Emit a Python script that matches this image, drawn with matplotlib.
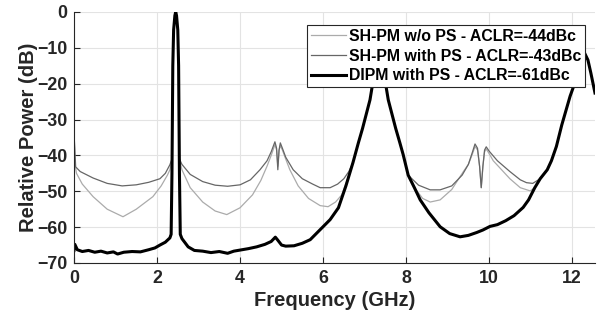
import matplotlib
matplotlib.use("Agg")
import matplotlib.pyplot as plt

plt.rcParams['font.family'] = ['Liberation Sans', 'DejaVu Sans']
plt.rcParams['font.weight'] = 'bold'

# shared flank of the 3rd and 5th harmonics (all three traces sit under the black one there)
f_h3 = [6.72, 6.85, 6.95, 7.04, 7.13, 7.18, 7.24, 7.3, 7.35, 7.4, 7.46, 7.52, 7.57, 7.66,
        7.75, 7.85, 7.93, 8.05]
p_h3 = [-42, -36.5, -32.5, -28.5, -24.5, -21, -16, -11, -8, -11, -16, -21, -24.5, -28.5,
        -32.5, -36.5, -39.8, -45.5]
f_h5 = [11.23, 11.4, 11.5, 11.62, 11.75, 11.85, 11.95, 12.03, 12.12, 12.2, 12.28, 12.38,
        12.45, 12.55]
p_h5 = [-46.5, -44, -41.5, -37.5, -31.5, -27.5, -23.5, -20.9, -17, -13.5, -11, -13.4,
        -17, -22.6]

# SH-PM w/o PS (light grey)
f_nops = [0.0, 0.03, 0.06, 0.2, 0.46, 0.8, 1.18, 1.5, 1.9, 2.1, 2.25, 2.31, 2.36,
          2.37, 2.38, 2.40, 2.43, 2.45, 2.47, 2.50, 2.52, 2.53, 2.54,
          2.6, 2.8, 3.1, 3.4, 3.68, 4.0, 4.3, 4.5, 4.65, 4.75, 4.84, 4.88, 4.91, 4.94, 4.97,
          5.02, 5.1, 5.2, 5.4, 5.65, 5.93, 6.12, 6.3, 6.45, 6.53, 6.62] + f_h3 + \
         [8.2, 8.4, 8.58, 8.82, 9.1, 9.38, 9.5, 9.6, 9.66, 9.72, 9.77, 9.81, 9.85, 9.89, 9.93,
          10.0, 10.1, 10.3, 10.5, 10.75, 10.99, 11.1] + f_h5
p_nops = [-41, -43, -45, -48, -51.5, -55, -57.1, -55, -51.5, -48.5, -45.5, -44, -41,
          -30, -15, -5, -1, 0, -1, -5, -15, -30, -41,
          -44, -49, -53, -55.5, -56.5, -54.6, -51, -47, -43, -40, -37, -38.5, -43, -38.5, -37.3,
          -38.5, -41, -44, -48.5, -52, -54, -54.3, -53, -51, -48.5, -45.5] + p_h3 + \
         [-49, -52, -53, -52.4, -49.5, -44.5, -42.5, -39.5, -37.5, -38.5, -43, -49, -43, -39,
          -38.2, -39.5, -41.5, -44, -46.5, -49, -49.9, -49] + p_h5

# SH-PM with PS (dark grey)
f_ps = [0.0, 0.02, 0.04, 0.15, 0.46, 0.8, 1.16, 1.5, 1.8, 2.07, 2.2, 2.31, 2.36,
        2.37, 2.38, 2.40, 2.43, 2.45, 2.47, 2.50, 2.52, 2.53, 2.54,
        2.6, 2.8, 3.1, 3.4, 3.7, 4.0, 4.25, 4.48, 4.65, 4.75, 4.84, 4.88, 4.91, 4.94, 4.97,
        5.02, 5.1, 5.28, 5.5, 5.75, 5.93, 6.17, 6.35, 6.5, 6.62] + f_h3 + \
       [8.3, 8.58, 8.82, 9.1, 9.35, 9.5, 9.6, 9.66, 9.72, 9.77, 9.81, 9.85, 9.89, 9.93,
        10.0, 10.2, 10.5, 10.75, 10.9, 11.05] + f_h5
p_ps = [-34.3, -38, -43.2, -44.5, -46.3, -47.8, -48.5, -48.2, -47.5, -46.5, -45, -42.6, -41,
        -30, -15, -5, -1, 0, -1, -5, -15, -30, -41,
        -42.5, -45.3, -47.3, -48.3, -48.6, -48.2, -46.8, -44, -41.5, -39, -36.2, -38, -44, -38.5,
        -36.5, -38, -40.5, -44, -46.5, -48, -49, -49, -48, -46.5, -44.5] + p_h3 + \
       [-48.3, -49.6, -49.6, -48.5, -45.5, -42.5, -39, -36.8, -38, -43, -49, -43, -38.5, -37.6,
        -38.8, -41.5, -44.5, -46.8, -47.6, -47.8] + p_h5

# DIPM with PS (black)
f_dipm = [0.0, 0.02, 0.08, 0.2, 0.35, 0.5, 0.65, 0.8, 0.95, 1.05, 1.2, 1.4, 1.6, 1.8, 1.95,
          2.07, 2.2, 2.31, 2.34, 2.36, 2.37, 2.38, 2.40, 2.43, 2.45, 2.47, 2.50, 2.52, 2.53,
          2.54, 2.56, 2.6, 2.75, 2.9, 3.1, 3.3, 3.5, 3.7, 3.85, 4.0, 4.2, 4.4, 4.6, 4.75,
          4.85, 4.9, 5.0, 5.1, 5.3, 5.5, 5.69, 5.93, 6.17, 6.37, 6.55] + f_h3 + \
         [8.2, 8.34, 8.55, 8.82, 9.05, 9.3, 9.5, 9.7, 9.85, 10.02, 10.2, 10.4, 10.6, 10.82,
          10.95, 11.1] + f_h5
p_dipm = [-66.5, -64.8, -66.3, -66.8, -66.5, -67.0, -66.7, -67.2, -66.9, -67.5, -67.0, -66.8,
          -66.9, -66.3, -65.8, -65, -64.2, -63, -62, -45, -30, -15, -5, -1, 0, -1, -5, -15,
          -30, -45, -62, -63.2, -65.5, -66.5, -66.7, -67.1, -66.8, -67.3, -66.7, -66.4, -66,
          -65.5, -64.8, -64, -62.8, -63.5, -65, -65.3, -65.2, -64.5, -63.5, -60.7, -57.9,
          -54.6, -48.5] + p_h3 + \
         [-49, -52.4, -56, -59.9, -61.8, -62.7, -62.3, -61.5, -60.8, -59.8, -59.3, -58.2,
          -56.8, -54.5, -52.4, -49] + p_h5

labels = ['SH-PM w/o PS - ACLR=-44dBc',
          'SH-PM with PS - ACLR=-43dBc',
          'DIPM with PS - ACLR=-61dBc']
x_ticks = [0, 2, 4, 6, 8, 10, 12]
y_ticks = [0, -10, -20, -30, -40, -50, -60, -70]

fig = plt.figure(figsize=(6.09, 3.25), dpi=100)
ax = fig.add_axes([0.1215, 0.1908, 0.8555, 0.7723])

ax.plot(f_nops, p_nops, color='#ababab', lw=0.9, label=labels[0])
ax.plot(f_ps, p_ps, color='#666666', lw=0.9, label=labels[1])
ax.plot(f_dipm, p_dipm, color='black', lw=2.2, label=labels[2])

ax.set_xlim(0, 12.55)
ax.set_ylim(-70, 0)
ax.set_xticks(x_ticks)
ax.set_yticks(y_ticks)
ax.grid(True, color='#e3e3e3', lw=0.8)
ax.set_axisbelow(True)
ax.spines['top'].set_visible(False)
ax.spines['right'].set_visible(False)
for s in ['left', 'bottom']:
    ax.spines[s].set_color('#262626')
    ax.spines[s].set_linewidth(0.8)
ax.tick_params(direction='in', length=4, width=0.8, color='#262626',
               labelsize=12.8, labelcolor='#262626', pad=5)
for t in ax.get_xticklabels() + ax.get_yticklabels():
    t.set_fontweight('bold')

ax.set_xlabel('Frequency (GHz)', fontsize=14.5, fontweight='bold', color='#262626', labelpad=3)
ax.set_ylabel('Relative Power (dB)', fontsize=14.5, fontweight='bold', color='#262626', labelpad=-1)

leg = ax.legend(loc='upper left', bbox_to_anchor=(307 / 609, 1 - 25 / 325),
                bbox_transform=fig.transFigure, fontsize=11.4, frameon=True,
                fancybox=False, framealpha=1, edgecolor='#262626',
                borderpad=0.25, labelspacing=0.3, handlelength=2.2,
                handletextpad=0.2, borderaxespad=0)
leg.get_frame().set_linewidth(0.8)
for t in leg.get_texts():
    t.set_fontweight('bold')

fig.savefig('out.png', dpi=100)
